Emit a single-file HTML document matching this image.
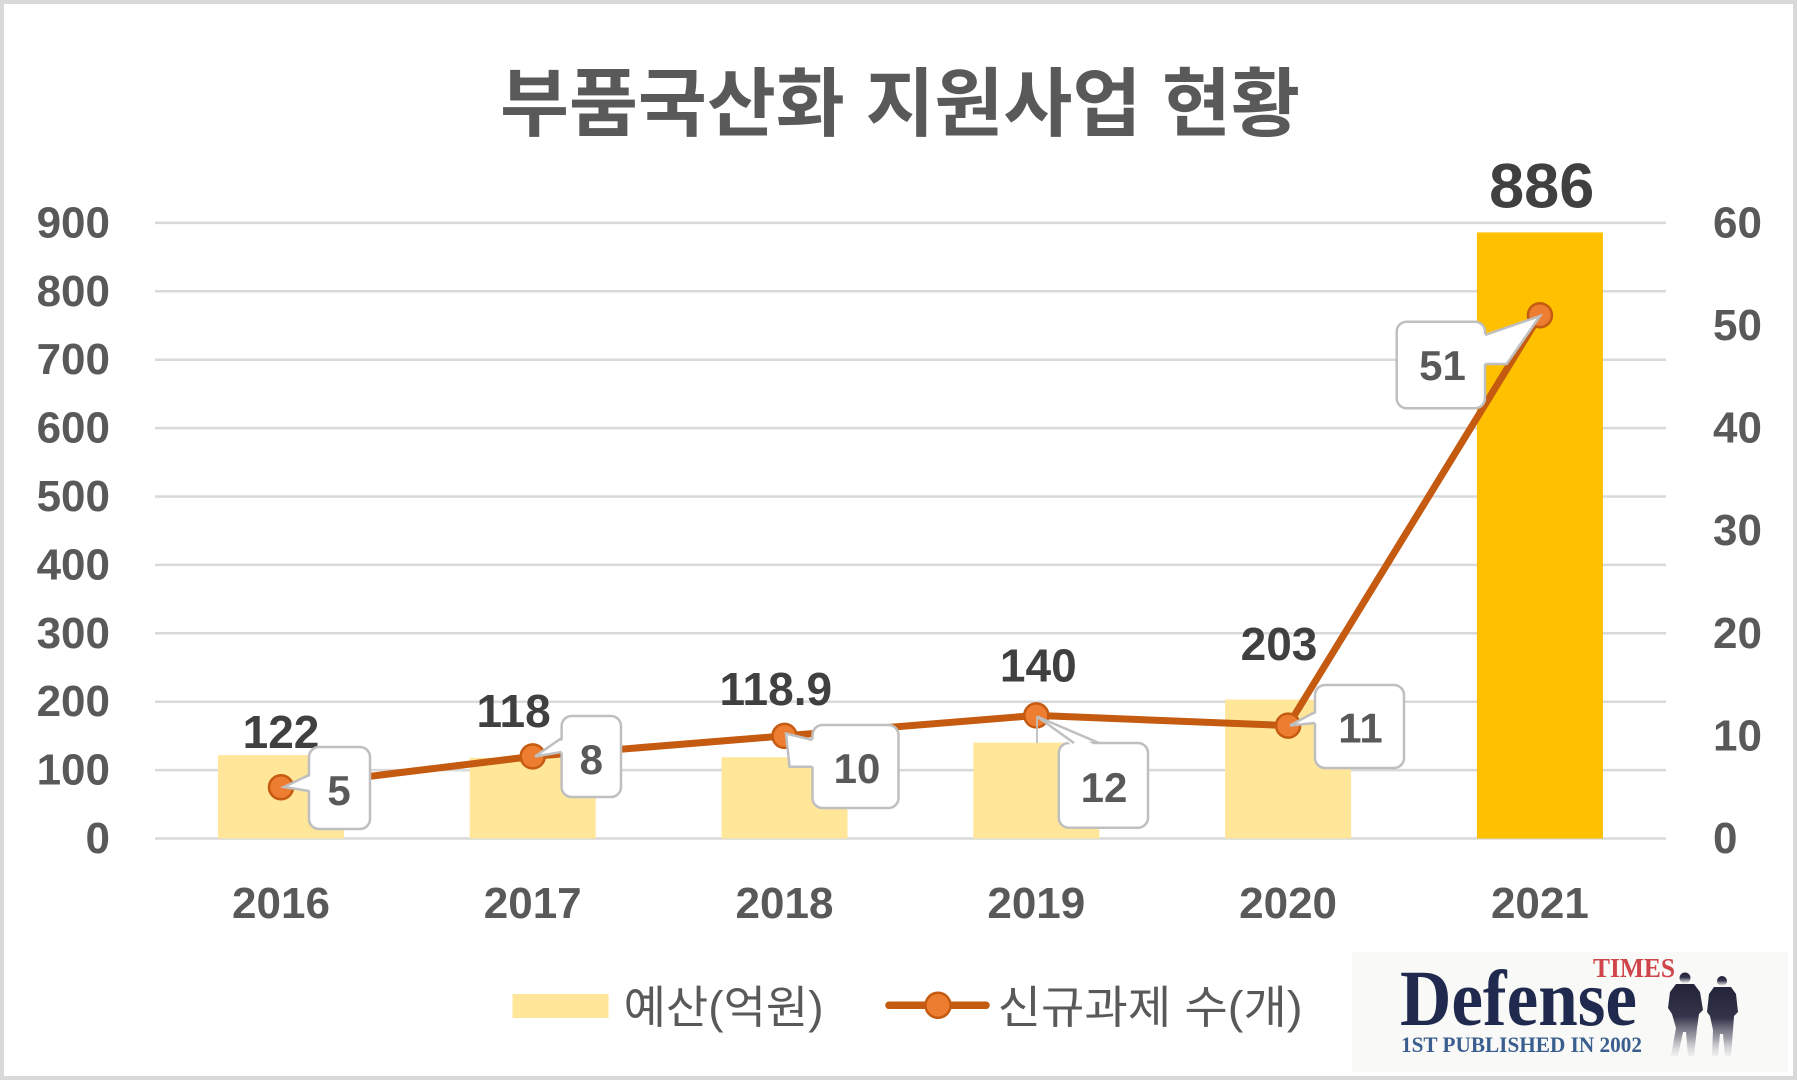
<!DOCTYPE html>
<html>
<head>
<meta charset="utf-8">
<style>
  html,body{margin:0;padding:0;background:#fff;}
  svg{display:block;}
  .ax{font-family:"Liberation Sans","Noto Sans CJK KR",sans-serif;font-weight:bold;font-size:44px;fill:#595959;}
  .dl{font-family:"Liberation Sans","Noto Sans CJK KR",sans-serif;font-weight:bold;font-size:46px;fill:#404040;text-anchor:middle;}
  .cl{font-family:"Liberation Sans","Noto Sans CJK KR",sans-serif;font-weight:bold;font-size:42px;fill:#595959;text-anchor:middle;}
  .lg{font-family:"Liberation Sans","Noto Sans CJK KR",sans-serif;font-size:45px;fill:#595959;}
</style>
</head>
<body>
<svg width="1797" height="1080" viewBox="0 0 1797 1080" xmlns="http://www.w3.org/2000/svg">
  <defs>
    <linearGradient id="sold" x1="0" y1="0" x2="0" y2="1">
      <stop offset="0" stop-color="#23233a"/>
      <stop offset="0.45" stop-color="#33334a"/>
      <stop offset="0.75" stop-color="#8a8a96" stop-opacity="0.8"/>
      <stop offset="1" stop-color="#d8d8dc" stop-opacity="0.3"/>
    </linearGradient>
  </defs>
  <rect x="0" y="0" width="1797" height="1080" fill="#fff"/>

  <!-- Title -->
  <text x="900" y="130" text-anchor="middle" textLength="800" lengthAdjust="spacing"
        style="font-family:'Liberation Sans','Noto Sans CJK KR',sans-serif;font-weight:bold;font-size:75px;fill:#595959;">부품국산화 지원사업 현황</text>

  <!-- Gridlines -->
  <g stroke="#D9D9D9" stroke-width="2.5">
    <line x1="155" x2="1666" y1="838.5" y2="838.5"/>
    <line x1="155" x2="1666" y1="770.1" y2="770.1"/>
    <line x1="155" x2="1666" y1="701.7" y2="701.7"/>
    <line x1="155" x2="1666" y1="633.3" y2="633.3"/>
    <line x1="155" x2="1666" y1="564.9" y2="564.9"/>
    <line x1="155" x2="1666" y1="496.5" y2="496.5"/>
    <line x1="155" x2="1666" y1="428.1" y2="428.1"/>
    <line x1="155" x2="1666" y1="359.7" y2="359.7"/>
    <line x1="155" x2="1666" y1="291.3" y2="291.3"/>
    <line x1="155" x2="1666" y1="222.9" y2="222.9"/>
  </g>

  <!-- Left axis labels -->
  <g class="ax" text-anchor="end">
    <text x="110" y="853">0</text>
    <text x="110" y="784.6">100</text>
    <text x="110" y="716.2">200</text>
    <text x="110" y="647.8">300</text>
    <text x="110" y="579.4">400</text>
    <text x="110" y="511">500</text>
    <text x="110" y="442.6">600</text>
    <text x="110" y="374.2">700</text>
    <text x="110" y="305.8">800</text>
    <text x="110" y="237.4">900</text>
  </g>
  <!-- Right axis labels -->
  <g class="ax" text-anchor="start">
    <text x="1713" y="853">0</text>
    <text x="1713" y="750.4">10</text>
    <text x="1713" y="647.8">20</text>
    <text x="1713" y="545.2">30</text>
    <text x="1713" y="442.6">40</text>
    <text x="1713" y="340">50</text>
    <text x="1713" y="237.4">60</text>
  </g>

  <!-- Bars -->
  <g>
    <rect x="218" y="755.1" width="126" height="83.4" fill="#FFE699"/>
    <rect x="469.7" y="757.8" width="126" height="80.7" fill="#FFE699"/>
    <rect x="721.5" y="757.2" width="126" height="81.3" fill="#FFE699"/>
    <rect x="973.3" y="742.7" width="126" height="95.8" fill="#FFE699"/>
    <rect x="1225.1" y="699.6" width="126" height="138.9" fill="#FFE699"/>
    <rect x="1476.9" y="232.4" width="126" height="606.1" fill="#FFC000"/>
  </g>

  <!-- Category labels -->
  <g class="ax" text-anchor="middle">
    <text x="281" y="918">2016</text>
    <text x="532.7" y="918">2017</text>
    <text x="784.5" y="918">2018</text>
    <text x="1036.3" y="918">2019</text>
    <text x="1288.1" y="918">2020</text>
    <text x="1539.9" y="918">2021</text>
  </g>

  <!-- Bar data labels -->
  <g class="dl">
    <text x="281" y="748">122</text>
    <text x="513.6" y="727">118</text>
    <text x="775.8" y="705">118.9</text>
    <text x="1038.3" y="681.7">140</text>
    <text x="1279" y="660">203</text>
    <text x="1541.7" y="207.3" style="font-size:63px">886</text>
  </g>

  <!-- Line series -->
  <polyline points="281,787.2 532.7,756.4 784.5,735.9 1036.3,715.4 1288.1,725.6 1539.9,315.2"
            fill="none" stroke="#C55A11" stroke-width="7" stroke-linejoin="round"/>
  <g fill="#ED7D31" stroke="#C55A11" stroke-width="2.5">
    <circle cx="281" cy="787.2" r="12"/>
    <circle cx="532.7" cy="756.4" r="12"/>
    <circle cx="784.5" cy="735.9" r="12"/>
    <circle cx="1036.3" cy="715.4" r="12"/>
    <circle cx="1288.1" cy="725.6" r="12"/>
    <circle cx="1539.9" cy="315.2" r="12"/>
  </g>

  <!-- Callouts -->
  <g stroke="#BFBFBF" stroke-width="2.5" fill="#fff">
    <rect x="309" y="747" width="61" height="82" rx="10"/>
    <polygon points="313,775 284,787 313,791" stroke="none"/>
    <polyline points="309,775 284,787 309,791" fill="none"/>
    <rect x="561.6" y="716" width="59.4" height="81" rx="10"/>
    <polygon points="566,738 535,756.5 566,752" stroke="none"/>
    <polyline points="561.6,738 535,756.5 561.6,752" fill="none"/>
    <rect x="812.5" y="725" width="86" height="83" rx="10"/>
    <polygon points="817,740 786,733.5 789.5,766.7 817,766.7" stroke="none"/>
    <polyline points="812.5,740 786,733.5 789.5,766.7 812.5,766.7" fill="none"/>
    <rect x="1058.8" y="743" width="89.2" height="84.7" rx="10"/>
    <polygon points="1074,747 1037,716.5 1099,747" stroke="none"/>
    <polyline points="1074,743 1037,716.5 1099,743" fill="none"/>
    <line x1="1037" y1="716.5" x2="1037" y2="743" stroke-width="1.8"/>
    <rect x="1315" y="685" width="89" height="83" rx="10"/>
    <polygon points="1319,712 1290,725.5 1319,723" stroke="none"/>
    <polyline points="1315,712 1290,725.5 1315,723" fill="none"/>
    <rect x="1396.7" y="321.7" width="88.3" height="86.6" rx="10"/>
    <polygon points="1481,335 1540,316 1506.7,364 1481,364" stroke="none"/>
    <polyline points="1485,335 1540,316 1506.7,364 1485,364" fill="none"/>
  </g>
  <g class="cl">
    <text x="339" y="805">5</text>
    <text x="591.3" y="774">8</text>
    <text x="857" y="783">10</text>
    <text x="1104" y="802">12</text>
    <text x="1360.5" y="742.5">11</text>
    <text x="1442.5" y="380">51</text>
  </g>

  <!-- Legend -->
  <rect x="512.5" y="994" width="96" height="24" fill="#FFE699"/>
  <text class="lg" x="623.6" y="1023" textLength="200" lengthAdjust="spacingAndGlyphs">예산(억원)</text>
  <line x1="889" y1="1005.3" x2="986" y2="1005.3" stroke="#C55A11" stroke-width="7.5" stroke-linecap="round"/>
  <circle cx="938" cy="1005.3" r="12.5" fill="#ED7D31" stroke="#C55A11" stroke-width="2.5"/>
  <text class="lg" x="997.6" y="1023" textLength="305" lengthAdjust="spacingAndGlyphs">신규과제 수(개)</text>

  <!-- Logo -->
  <rect x="1352" y="952" width="436" height="120" fill="#F9F9F7"/>
  <text x="1593" y="977" textLength="82" lengthAdjust="spacingAndGlyphs"
        style="font-family:'Liberation Serif',serif;font-weight:bold;font-size:27px;fill:#D0454C;">TIMES</text>
  <text x="1400" y="1025" textLength="237" lengthAdjust="spacingAndGlyphs"
        style="font-family:'Liberation Serif',serif;font-weight:bold;font-size:79px;fill:#1F2A4E;">Defense</text>
  <text x="1401" y="1052" textLength="241" lengthAdjust="spacingAndGlyphs"
        style="font-family:'Liberation Serif',serif;font-weight:bold;font-size:22px;fill:#3A5F8F;">1ST PUBLISHED IN 2002</text>
  <g fill="url(#sold)">
    <circle cx="1685" cy="978" r="5.5"/>
    <path d="M1676,984 L1694,984 L1700,992 L1703,1010 L1699,1014 L1697,1028 L1694,1056 L1688,1056 L1686,1032 L1683,1032 L1678,1056 L1671,1056 L1676,1028 L1672,1014 L1668,1008 L1670,992 Z"/>
    <circle cx="1722" cy="981" r="5"/>
    <path d="M1714,987 L1731,987 L1736,994 L1738,1012 L1734,1016 L1733,1030 L1731,1056 L1725,1056 L1723,1034 L1720,1034 L1718,1056 L1712,1056 L1713,1030 L1710,1016 L1707,1012 L1709,994 Z"/>
  </g>

  <!-- Border -->
  <rect x="2" y="2" width="1793" height="1076" fill="none" stroke="#D9D9D9" stroke-width="4"/>
</svg>
</body>
</html>
